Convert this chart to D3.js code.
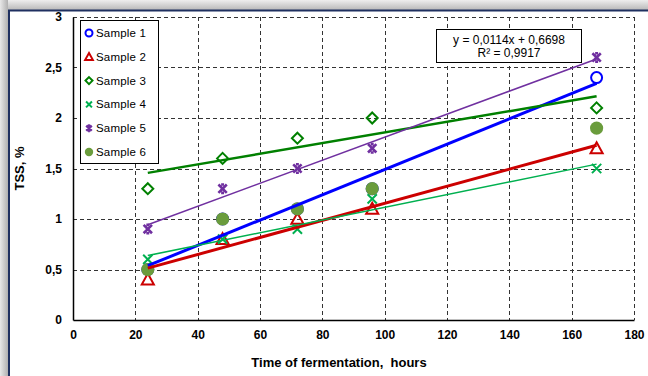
<!DOCTYPE html>
<html>
<head>
<meta charset="utf-8">
<script src="https://cdn.jsdelivr.net/npm/d3@7"></script>
<style>
  html, body { margin: 0; padding: 0; background: #fff; }
  svg { display: block; font-family: "Liberation Sans", Arial, sans-serif; }
</style>
</head>
<body>
<div id="chart"></div>
<script>
// TSS vs fermentation time, six samples with linear trend lines
const hours = [24, 48, 72, 96, 168];
const sampleNames = ['Sample 1', 'Sample 2', 'Sample 3', 'Sample 4', 'Sample 5', 'Sample 6'];
const sample1 = [0.5, 1.0, 1.1, 1.3, 2.4];
const sample2 = [0.4, 0.8, 1.0, 1.1, 1.7];
const sample3 = [1.3, 1.6, 1.8, 2.0, 2.1];
const sample4 = [0.6, 0.8, 0.9, 1.2, 1.5];
const sample5 = [0.9, 1.3, 1.5, 1.7, 2.6];
const sample6 = [0.5, 1.0, 1.1, 1.3, 1.9];
const xTicks = [0, 20, 40, 60, 80, 100, 120, 140, 160, 180];
const yTicks = [0, 0.5, 1, 1.5, 2, 2.5, 3];
const equationLines = ['y = 0,0114x + 0,6698', 'R² = 0,9917'];

const CONFIG = {
  width: 648,
  height: 376,
  plot: { left: 73, right: 634, top: 17, bottom: 320 }
};

// marker/line style per sample
const STYLES = [
  { color: '#0000ff', marker: 'circle', trend: 3 },
  { color: '#cc0000', marker: 'triangle', trend: 3 },
  { color: '#008000', marker: 'diamond', trend: 2.5 },
  { color: '#00b050', marker: 'cross', trend: 1.5 },
  { color: '#7030a0', marker: 'star', trend: 1.5 },
  { color: '#6a9c3c', marker: 'dot', trend: 0 }
];

const seriesValues = [sample1, sample2, sample3, sample4, sample5, sample6];
const series = sampleNames.map((name, i) => ({
  name: name,
  style: STYLES[i],
  points: hours.map((h, j) => ({ x: h, y: seriesValues[i][j] }))
}));

const fmt = v => String(v).replace('.', ',');

const svg = d3.select('#chart').append('svg')
  .attr('width', CONFIG.width)
  .attr('height', CONFIG.height);

// frame: grey shadow on top/left and a navy border
const defs = svg.append('defs');
const gTop = defs.append('linearGradient').attr('id', 'shTop').attr('x1', 0).attr('y1', 0).attr('x2', 0).attr('y2', 1);
gTop.append('stop').attr('offset', 0).attr('stop-color', '#eeeeee');
gTop.append('stop').attr('offset', 1).attr('stop-color', '#b8b8b8');
const gLeft = defs.append('linearGradient').attr('id', 'shLeft').attr('x1', 0).attr('y1', 0).attr('x2', 1).attr('y2', 0);
gLeft.append('stop').attr('offset', 0).attr('stop-color', '#e8e8e8');
gLeft.append('stop').attr('offset', 1).attr('stop-color', '#b0b0b0');

svg.append('rect').attr('x', 0).attr('y', 0).attr('width', CONFIG.width).attr('height', 10).attr('fill', 'url(#shTop)');
svg.append('rect').attr('x', 0).attr('y', 0).attr('width', 8).attr('height', CONFIG.height).attr('fill', 'url(#shLeft)');
svg.append('line').attr('x1', 8).attr('x2', CONFIG.width).attr('y1', 10.5).attr('y2', 10.5)
  .attr('stroke', '#1f3060').attr('stroke-width', 2);
svg.append('line').attr('x1', 9).attr('x2', 9).attr('y1', 10).attr('y2', CONFIG.height)
  .attr('stroke', '#1f3060').attr('stroke-width', 2);

const p = CONFIG.plot;
const x = d3.scaleLinear().domain([0, 180]).range([p.left, p.right]);
const y = d3.scaleLinear().domain([0, 3]).range([p.bottom, p.top]);

// gridlines
const grid = svg.append('g');
grid.selectAll('.vg').data(xTicks.slice(1)).join('line')
  .attr('x1', d => Math.round(x(d)) + 0.5).attr('x2', d => Math.round(x(d)) + 0.5)
  .attr('y1', p.top).attr('y2', p.bottom)
  .attr('stroke', '#333').attr('stroke-width', 1).attr('stroke-dasharray', '4,3');
grid.selectAll('.hg').data(yTicks.slice(1)).join('line')
  .attr('x1', p.left).attr('x2', p.right)
  .attr('y1', d => Math.round(y(d)) + 0.5).attr('y2', d => Math.round(y(d)) + 0.5)
  .attr('stroke', '#333').attr('stroke-width', 1).attr('stroke-dasharray', '4,3');

// axes
const xAxis = svg.append('g')
  .attr('transform', `translate(0,${p.bottom})`)
  .call(d3.axisBottom(x).tickValues(xTicks).tickSize(0).tickPadding(10).tickFormat(fmt));
const yAxis = svg.append('g')
  .attr('transform', `translate(${p.left},0)`)
  .call(d3.axisLeft(y).tickValues(yTicks).tickSize(0).tickPadding(11).tickFormat(fmt));
[xAxis, yAxis].forEach(ax => {
  ax.select('.domain').attr('stroke', '#000').attr('stroke-width', 1.5);
  ax.selectAll('text')
    .style('font-family', '"Liberation Sans", Arial, sans-serif')
    .style('font-size', '12px').style('font-weight', 'bold').attr('fill', '#000');
});

svg.append('text')
  .attr('transform', `translate(24,${(p.top + p.bottom) / 2}) rotate(-90)`)
  .attr('text-anchor', 'middle')
  .style('font-size', '13px').style('font-weight', 'bold')
  .text('TSS, %');
svg.append('text')
  .attr('x', 339).attr('y', 367)
  .attr('text-anchor', 'middle')
  .style('font-size', '13px').style('font-weight', 'bold')
  .attr('xml:space', 'preserve')
  .text('Time of fermentation,  hours');

// marker drawing helper
function drawMarker(g, type, color, s) {
  if (type === 'circle') {
    g.append('circle').attr('r', s * 0.5).attr('fill', 'none').attr('stroke', color).attr('stroke-width', 2);
  } else if (type === 'dot') {
    g.append('circle').attr('r', s * 0.6).attr('fill', color);
  } else if (type === 'triangle') {
    const h = s * 0.55;
    g.append('path').attr('d', `M0,${-h}L${h},${h * 0.8}L${-h},${h * 0.8}Z`)
      .attr('fill', 'none').attr('stroke', color).attr('stroke-width', 2);
  } else if (type === 'diamond') {
    const h = s * 0.5;
    g.append('path').attr('d', `M0,${-h}L${h},0L0,${h}L${-h},0Z`)
      .attr('fill', 'none').attr('stroke', color).attr('stroke-width', 2);
  } else if (type === 'cross') {
    const h = s * 0.42;
    g.append('path').attr('d', `M${-h},${-h}L${h},${h}M${-h},${h}L${h},${-h}`)
      .attr('stroke', color).attr('stroke-width', 2);
  } else if (type === 'star') {
    const h = s * 0.38;
    g.append('path').attr('d', `M${-h},${-h}L${h},${h}M${-h},${h}L${h},${-h}M${-h * 0.35},${-h}L${h * 0.35},${-h}M${-h * 0.35},${h}L${h * 0.35},${h}`)
      .attr('stroke', color).attr('stroke-width', 2.6);
  }
}

// points
const pts = svg.append('g');
series.forEach(s => {
  s.points.forEach(d => {
    const g = pts.append('g').attr('transform', `translate(${x(d.x)},${y(d.y)})`);
    drawMarker(g, s.style.marker, s.style.color, 11);
  });
});

// least-squares trend lines
function fit(points) {
  const mx = d3.mean(points, d => d.x), my = d3.mean(points, d => d.y);
  const sxy = d3.sum(points, d => (d.x - mx) * (d.y - my));
  const sxx = d3.sum(points, d => (d.x - mx) * (d.x - mx));
  const b = sxy / sxx;
  return { b: b, a: my - b * mx };
}
const trend = svg.append('g');
series.forEach(s => {
  if (!s.style.trend) return;
  const f = fit(s.points);
  const x0 = d3.min(hours), x1 = d3.max(hours);
  trend.append('line')
    .attr('x1', x(x0)).attr('y1', y(f.a + f.b * x0))
    .attr('x2', x(x1)).attr('y2', y(f.a + f.b * x1))
    .attr('stroke', s.style.color).attr('stroke-width', s.style.trend);
});

// legend
const legend = svg.append('g').attr('transform', 'translate(80,20)');
legend.append('rect').attr('x', 0.5).attr('y', 0.5).attr('width', 78).attr('height', 143)
  .attr('fill', '#fff').attr('stroke', '#000').attr('stroke-width', 1);
series.forEach((s, i) => {
  const row = legend.append('g').attr('transform', `translate(0,${13 + i * 23.8})`);
  const mg = row.append('g').attr('transform', 'translate(9,0)');
  drawMarker(mg, s.style.marker, s.style.color, 7);
  row.append('text').attr('x', 16).attr('y', 4)
    .style('font-size', '11.5px').style('letter-spacing', '0.2px')
    .text(s.name);
});

// trend equation box
const eq = svg.append('g');
eq.append('rect').attr('x', 436.5).attr('y', 29.5).attr('width', 145).attr('height', 33)
  .attr('fill', '#fff').attr('stroke', '#000').attr('stroke-width', 1);
equationLines.forEach((t, i) => {
  eq.append('text').attr('x', 509).attr('y', 44 + i * 13)
    .attr('text-anchor', 'middle')
    .style('font-size', '12px')
    .text(t);
});
</script>
</body>
</html>
